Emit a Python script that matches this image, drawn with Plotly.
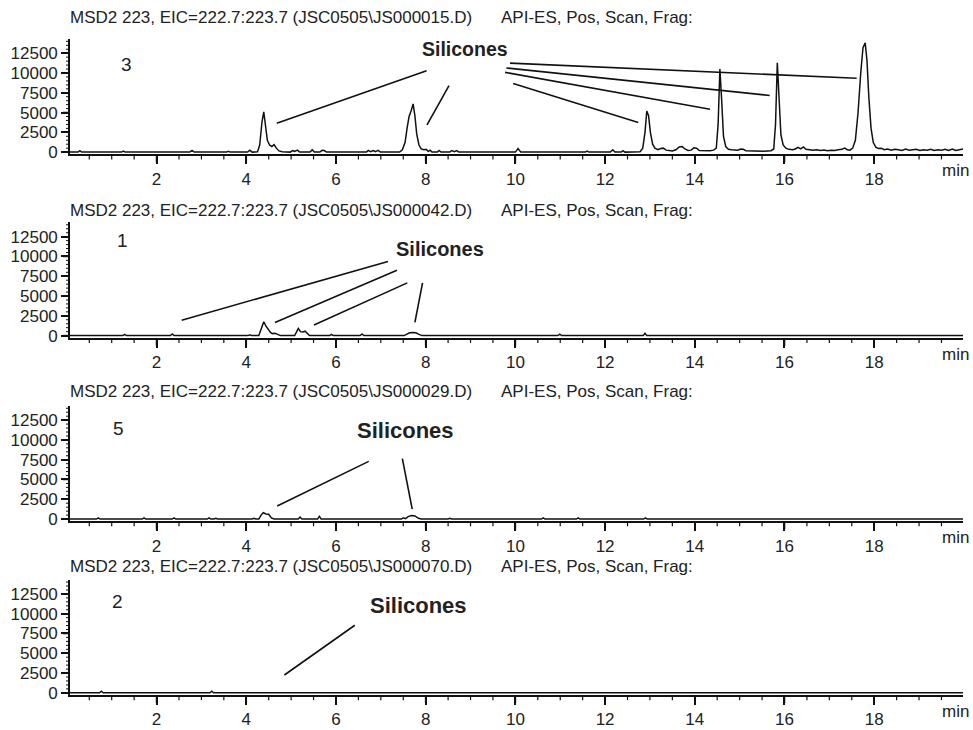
import plotly.graph_objects as go

# ---------------- data (retention time in min, intensity) ----------------
t1 = [0.07, 0.25, 0.29, 0.33, 1.22, 1.26, 1.30, 2.74, 2.79, 2.84, 3.56, 3.60, 3.64,
      4.03, 4.08, 4.13, 4.25, 4.30, 4.35, 4.39, 4.43, 4.47, 4.52, 4.57, 4.62, 4.67, 4.73, 4.80,
      4.98, 5.03, 5.08, 5.14, 5.19, 5.42, 5.47, 5.52, 5.64, 5.69, 5.74, 5.79,
      6.68, 6.72, 6.77, 6.83, 6.88, 6.94, 6.99,
      7.42, 7.48, 7.54, 7.59, 7.63, 7.68, 7.72, 7.76, 7.80, 7.85, 7.90, 7.96, 8.01, 8.06, 8.10, 8.14,
      8.26, 8.30, 8.34, 8.54, 8.58, 8.64, 8.69, 8.74,
      10.00, 10.06, 10.12, 11.56, 11.60, 11.64, 12.12, 12.17, 12.22, 12.36, 12.40, 12.44,
      12.78, 12.84, 12.89, 12.93, 12.97, 13.01, 13.06, 13.11, 13.18, 13.24, 13.30, 13.36, 13.44,
      13.50, 13.58, 13.65, 13.72, 13.78, 13.85, 13.92, 13.98, 14.04, 14.10, 14.18, 14.26, 14.34,
      14.42, 14.48, 14.52, 14.56, 14.60, 14.64, 14.69, 14.75, 14.82, 14.90, 14.96, 15.02, 15.08,
      15.14, 15.22, 15.30, 15.38, 15.46, 15.54, 15.62, 15.70, 15.76, 15.80, 15.84, 15.88, 15.92,
      15.97, 16.03, 16.10, 16.18, 16.24, 16.30, 16.36, 16.42, 16.48, 16.56, 16.64, 16.72, 16.80,
      16.88, 16.96, 17.04, 17.12, 17.20, 17.28, 17.34, 17.40, 17.46, 17.52, 17.58, 17.64, 17.70,
      17.75, 17.80, 17.84, 17.88, 17.93, 17.98, 18.04, 18.10, 18.16, 18.22, 18.30, 18.38, 18.46,
      18.54, 18.62, 18.70, 18.78, 18.86, 18.94, 19.02, 19.10, 19.18, 19.26, 19.34, 19.42, 19.50,
      19.58, 19.66, 19.74, 19.82, 19.90, 19.98]
i1 = [0, 0, 180, 0, 0, 120, 0, 0, 200, 0, 0, 100, 0,
      0, 250, 0, 30, 900, 3800, 5100, 3300, 1500, 900, 700, 950, 500, 150, 50,
      0, 200, 100, 250, 0, 0, 280, 0, 0, 220, 200, 0,
      0, 220, 50, 200, 50, 220, 0,
      0, 300, 1200, 3200, 4500, 5300, 6100, 4600, 2300, 900, 400, 300, 350, 100, 250, 0,
      0, 200, 0, 0, 200, 50, 200, 0,
      0, 450, 0, 0, 120, 0, 0, 300, 0, 0, 180, 0,
      50, 500, 2500, 5200, 4600, 2500, 1000, 500, 300, 450, 500, 250, 200,
      150, 300, 650, 700, 400, 200, 250, 550, 500, 200, 180, 200, 170,
      250, 500, 3500, 10500, 6500, 2000, 700, 350, 300, 320, 250, 380, 350,
      180, 150, 120, 130, 100, 120, 150, 180, 400, 3500, 11300, 7000, 2200,
      900, 500, 350, 300, 400, 600, 400, 650, 350, 300, 250, 300, 200,
      280, 180, 250, 200, 300, 350, 500, 300, 250, 500, 1500, 5000, 10000,
      13200, 13800, 11500, 7000, 3000, 1200, 600, 450, 500, 300, 400, 250, 350,
      300, 200, 380, 250, 300, 350, 200, 300, 250, 350, 200, 300, 250,
      350, 200, 400, 200, 300, 400]

t2 = [0.07, 1.25, 1.29, 1.33, 2.31, 2.35, 2.39, 4.04, 4.08, 4.12, 4.28, 4.34, 4.39, 4.44,
      4.49, 4.54, 4.58, 4.64, 4.70, 4.76, 5.08, 5.12, 5.16, 5.21, 5.26, 5.31, 5.36, 5.41,
      5.86, 5.90, 5.94, 6.54, 6.58, 6.62, 7.52, 7.58, 7.64, 7.71, 7.78, 7.85, 7.92,
      10.95, 10.99, 11.03, 12.85, 12.89, 12.93, 19.98]
i2 = [0, 0, 150, 0, 0, 200, 0, 0, 100, 0, 0, 900, 1750, 1200,
      800, 400, 250, 280, 150, 0, 0, 500, 900, 500, 450, 550, 200, 0,
      0, 150, 0, 0, 200, 0, 0, 200, 350, 400, 350, 150, 0,
      0, 180, 0, 0, 300, 0, 0]

t3 = [0.07, 0.66, 0.70, 0.74, 1.68, 1.72, 1.76, 2.35, 2.39, 2.43, 3.13, 3.17, 3.21, 3.28,
      3.32, 3.36, 4.13, 4.17, 4.21, 4.28, 4.33, 4.38, 4.44, 4.50, 4.56, 4.62, 5.16, 5.20, 5.24,
      5.59, 5.63, 5.67, 7.46, 7.50, 7.55, 7.61, 7.68, 7.76, 7.84, 7.90, 8.50, 8.54, 8.58,
      10.58, 10.62, 10.66, 11.36, 11.40, 11.44, 12.86, 12.90, 12.94, 19.98]
i3 = [0, 0, 150, 0, 0, 150, 0, 0, 150, 0, 0, 150, 0, 0,
      100, 0, 0, 100, 0, 0, 500, 800, 650, 600, 150, 0, 0, 250, 0,
      0, 350, 0, 0, 150, 50, 300, 450, 400, 100, 0, 0, 100, 0,
      0, 150, 0, 0, 150, 0, 0, 150, 0, 0]

t4 = [0.07, 0.73, 0.77, 0.81, 3.19, 3.23, 3.27, 4.52, 4.56, 4.60, 10.80, 10.84, 10.88,
      10.91, 10.95, 10.99, 15.24, 15.28, 15.32, 18.41, 18.45, 18.49, 19.98]
i4 = [0, 0, 200, 0, 0, 200, 0, 0, 80, 0, 0, 80, 0,
      0, 80, 0, 0, 80, 0, 0, 80, 0, 0]

files = ["JS000015.D", "JS000042.D", "JS000029.D", "JS000070.D"]
sample_ids = ["3", "1", "5", "2"]
x_ticks = [2, 4, 6, 8, 10, 12, 14, 16, 18]
x_minor = [0.5, 1.0, 1.5, 2.5, 3.0, 3.5, 4.5, 5.0, 5.5, 6.5, 7.0, 7.5, 8.5, 9.0, 9.5,
           10.5, 11.0, 11.5, 12.5, 13.0, 13.5, 14.5, 15.0, 15.5, 16.5, 17.0, 17.5,
           18.5, 19.0, 19.5]
y_ticks = [0, 2500, 5000, 7500, 10000, 12500]
y_ticklabels = ["0", "2500", "5000", "7500", "10000", "12500"]
y_minor = [500, 1000, 1500, 2000, 3000, 3500, 4000, 4500, 5500, 6000, 6500, 7000, 8000,
           8500, 9000, 9500, 10500, 11000, 11500, 12000, 13000, 13500, 14000]

# leader lines (time, intensity) start -> end, per panel
leaders = [
    [(4.68, 3660, 8.02, 10290), (8.03, 3450, 8.52, 8410), (9.95, 8660, 12.74, 3750),
     (9.77, 10080, 14.34, 5410), (9.80, 10630, 15.67, 7160), (9.88, 11250, 17.61, 9330)],
    [(2.56, 1950, 7.16, 9375), (4.64, 1660, 7.36, 8250), (5.51, 1325, 7.59, 6660),
     (7.76, 1660, 7.93, 6660)],
    [(4.69, 1660, 6.73, 7290), (7.48, 7625, 7.70, 1250)],
    [(4.85, 2250, 6.42, 8540)],
]
label_pos = [(8.87, 13040, 19.5), (8.32, 10910, 20), (7.54, 11160, 22), (7.83, 11000, 22)]
id_pos = [(1.34, 11040), (1.25, 12040), (1.16, 11410), (1.14, 11500)]

# ---------------- layout geometry ----------------
W, H = 973, 730
ML, MR = 70, 10
baselines = [153.8, 339.3, 524.8, 700.5]
title_y = [18.0, 213.0, 396.0, 573.0]
YMIN, YMAX = -300, 14300
PX_PER_UNIT = 100 / 12500
XR = [0.07, 19.98]
PLOT_W = W - ML - MR
PLOT_H = (YMAX - YMIN) * PX_PER_UNIT
FONT = "Liberation Sans, Arial, sans-serif"
TXT = "#222222"
INK = "#111111"
FS = 17
XMAJ_LEN, XMIN_LEN, YMAJ_LEN, YMIN_LEN = 8, 5, 7, 4

def py2paper(py):
    return 1 - py / H

def px2paper(px):
    return (px - ML) / PLOT_W

fig = go.Figure()
series = [(t1, i1), (t2, i2), (t3, i3), (t4, i4)]
layout = dict(width=W, height=H, margin=dict(l=ML, r=MR, t=0, b=0),
              paper_bgcolor="white", plot_bgcolor="white", showlegend=False,
              font=dict(family=FONT, color=TXT, size=FS))
annotations = []
shapes = []

for k, (tt, ii) in enumerate(series):
    n = "" if k == 0 else str(k + 1)
    fig.add_trace(go.Scatter(x=tt, y=ii, mode="lines", xaxis="x" + n, yaxis="y" + n,
                             line=dict(color=INK, width=1.5), hoverinfo="skip"))
    b = baselines[k]
    dom = [py2paper(b - YMIN * PX_PER_UNIT), py2paper(b - YMAX * PX_PER_UNIT)]
    layout["xaxis" + n] = dict(domain=[0, 1], anchor="y" + n, range=XR,
                               showline=True, linecolor=INK, linewidth=1.6,
                               ticks="outside", ticklen=XMAJ_LEN, tickwidth=1.5,
                               tickcolor=INK,
                               tickmode="array", tickvals=x_ticks,
                               ticktext=[str(v) for v in x_ticks],
                               showgrid=False, zeroline=False,
                               tickfont=dict(size=FS, color=TXT, family=FONT),
                               fixedrange=True)
    layout["yaxis" + n] = dict(domain=dom, anchor="x" + n, range=[YMIN, YMAX],
                               showline=True, linecolor=INK, linewidth=1.6,
                               ticks="outside", ticklen=YMAJ_LEN, tickwidth=1.5,
                               tickcolor=INK,
                               tickmode="array", tickvals=y_ticks, ticktext=y_ticklabels,
                               showgrid=False, zeroline=False,
                               tickfont=dict(size=FS, color=TXT, family=FONT),
                               fixedrange=True)
    # tick marks as shapes: x positioned by the data axis, length in axis-domain units
    for v, ln, wd in ([(v, XMAJ_LEN, 1.6) for v in x_ticks] +
                      [(v, XMIN_LEN, 1.2) for v in x_minor]):
        shapes.append(dict(type="line", xref="x" + n, yref="y" + n + " domain",
                           x0=v, x1=v, y0=0, y1=-ln / PLOT_H,
                           line=dict(color=INK, width=wd), layer="above"))
    for v, ln, wd in ([(v, YMAJ_LEN, 1.5) for v in y_ticks] +
                      [(v, YMIN_LEN, 1.0) for v in y_minor]):
        shapes.append(dict(type="line", xref="x" + n + " domain", yref="y" + n,
                           x0=0, x1=-ln / PLOT_W, y0=v, y1=v,
                           line=dict(color=INK, width=wd), layer="above"))
    # header texts
    annotations.append(dict(xref="paper", yref="paper", x=px2paper(68), y=py2paper(title_y[k]),
                            xanchor="left", yanchor="middle", showarrow=False,
                            text="MSD2 223, EIC=222.7:223.7 (JSC0505\\" + files[k] + ")",
                            font=dict(size=FS, color=TXT, family=FONT)))
    annotations.append(dict(xref="paper", yref="paper", x=px2paper(499), y=py2paper(title_y[k]),
                            xanchor="left", yanchor="middle", showarrow=False,
                            text="API-ES, Pos, Scan, Frag:",
                            font=dict(size=FS, color=TXT, family=FONT)))
    # "min" label
    annotations.append(dict(xref="paper", yref="paper", x=px2paper(971), y=py2paper(b + 19),
                            xanchor="right", yanchor="middle", showarrow=False, text="min",
                            font=dict(size=FS, color=TXT, family=FONT)))
    # sample id and Silicones label
    annotations.append(dict(xref="x" + n, yref="y" + n, x=id_pos[k][0], y=id_pos[k][1],
                            showarrow=False, text=sample_ids[k],
                            font=dict(size=19, color=TXT, family=FONT)))
    annotations.append(dict(xref="x" + n, yref="y" + n, x=label_pos[k][0], y=label_pos[k][1],
                            showarrow=False, text="<b>Silicones</b>",
                            font=dict(size=label_pos[k][2], color=TXT, family=FONT)))
    for (x0, y0, x1, y1) in leaders[k]:
        shapes.append(dict(type="line", xref="x" + n, yref="y" + n, x0=x0, y0=y0, x1=x1, y1=y1,
                           line=dict(color=INK, width=1.6)))

layout["annotations"] = annotations
layout["shapes"] = shapes
fig.update_layout(**layout)
fig.write_html("out.html")
